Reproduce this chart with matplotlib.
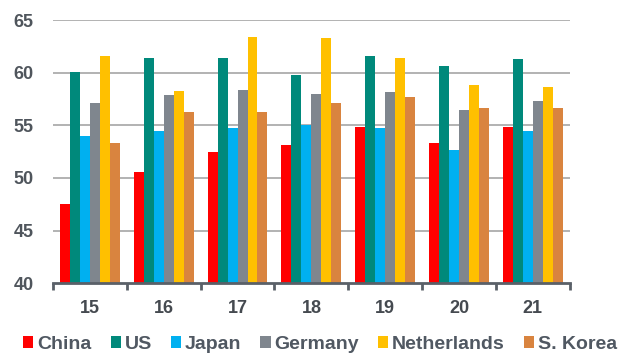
import numpy as np
import matplotlib.pyplot as plt

plt.rcParams['font.family'] = ['Liberation Sans', 'DejaVu Sans']

years = ["15", "16", "17", "18", "19", "20", "21"]
countries = ["China", "US", "Japan", "Germany", "Netherlands", "S. Korea"]
colors = ["#FF0000", "#00897B", "#00B0F0", "#7F868E", "#FFC000", "#D9843F"]

china = [47.5, 50.6, 52.5, 53.1, 54.8, 53.3, 54.8]
us = [60.1, 61.4, 61.4, 59.8, 61.6, 60.6, 61.3]
japan = [54.0, 54.5, 54.7, 55.0, 54.7, 52.7, 54.5]
germany = [57.1, 57.9, 58.4, 58.0, 58.2, 56.5, 57.3]
netherlands = [61.6, 58.3, 63.4, 63.3, 61.4, 58.8, 58.6]
s_korea = [53.3, 56.3, 56.3, 57.1, 57.7, 56.6, 56.6]

series = [china, us, japan, germany, netherlands, s_korea]

fig = plt.figure(figsize=(6.24, 3.53), dpi=100)
ax = fig.add_axes([0.085, 0.198, 0.828, 0.745])

x = np.arange(len(years))
w = 0.135
for i, (vals, c, name) in enumerate(zip(series, colors, countries)):
    offs = (i - 2.5) * w
    ax.bar(x + offs, np.array(vals) - 40, bottom=40, width=w, color=c,
           label=name, zorder=3)

ax.set_ylim(40, 65)
ax.set_xlim(-0.5, len(years) - 0.5)
ax.set_yticks([40, 45, 50, 55, 60, 65])
for v in [45, 50, 55, 60, 65]:
    ax.axhline(v, color="#A6A6A6", lw=1.2, zorder=1)

for s in ["top", "right", "left"]:
    ax.spines[s].set_visible(False)
ax.spines["bottom"].set_color("#5A6068")
ax.spines["bottom"].set_linewidth(2)
ax.spines["bottom"].set_zorder(4)

# tick marks sit between the year groups, labels at the group centres
ax.set_xticks(np.arange(-0.5, len(years)), minor=False)
ax.set_xticklabels([])
ax.set_xticks(x, minor=True)
ax.set_xticklabels(years, minor=True)
ax.tick_params(axis="x", which="major", direction="out", length=5, width=2,
               color="#5A6068")
ax.tick_params(axis="x", which="minor", length=0, pad=12, labelsize=13,
               labelcolor="#454a50")
ax.tick_params(axis="y", length=0, pad=14, labelsize=13, labelcolor="#4f555c")
for lab in ax.get_xticklabels(minor=True) + ax.get_yticklabels():
    lab.set_fontweight("bold")

fig.legend(loc="center", bbox_to_anchor=(0.513, 0.025), ncol=6,
           frameon=False, handlelength=0.52, handleheight=0.6,
           handletextpad=0.2, columnspacing=0.98, borderpad=0,
           prop={"size": 14, "weight": "bold"}, labelcolor="#505862")

fig.savefig("out.png", dpi=100)
